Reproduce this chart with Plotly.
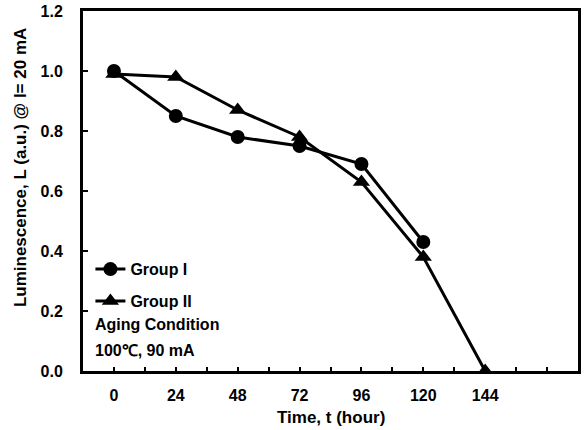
import plotly.graph_objects as go

hours = [0, 24, 48, 72, 96, 120, 144]
group1 = [1.00, 0.85, 0.78, 0.75, 0.69, 0.43]
group2 = [0.99, 0.98, 0.87, 0.78, 0.63, 0.38, 0.00]
x_tickvals = [0, 12, 24, 36, 48, 60, 72, 84, 96, 108, 120, 132, 144, 156, 168]
x_ticktext = ["0", "", "24", "", "48", "", "72", "", "96", "", "120", "", "144", "", ""]
y_tickvals = [0.0, 0.2, 0.4, 0.6, 0.8, 1.0, 1.2]

FONT = "Liberation Sans Narrow, Liberation Sans, Arial"

fig = go.Figure()
fig.add_trace(go.Scatter(
    x=hours[:len(group1)], y=group1, name="Group I", mode="lines+markers",
    legendgroup="g1",
    line=dict(color="black", width=3),
    marker=dict(symbol="circle", size=14, color="black"),
))
fig.add_trace(go.Scatter(
    x=hours, y=group2, name="Group II", mode="lines+markers",
    legendgroup="g2",
    line=dict(color="black", width=3),
    marker=dict(symbol="triangle-up", size=15, color="black"),
))

fig.update_layout(
    width=584, height=430,
    margin=dict(l=83, r=3, t=11, b=59),
    paper_bgcolor="white", plot_bgcolor="white",
    font=dict(family=FONT, size=15, color="black", weight="bold"),
    showlegend=True,
    legend=dict(x=0.015, y=0.33, xanchor="left", yanchor="top",
                bgcolor="rgba(0,0,0,0)", itemwidth=30, tracegroupgap=8,
                font=dict(family=FONT, size=16, color="black", weight="bold")),
    xaxis=dict(range=[-12, 180], tickvals=x_tickvals, ticktext=x_ticktext,
               ticks="inside", ticklen=4, tickwidth=2, tickcolor="black",
               showline=True, linewidth=3, linecolor="black", mirror=True,
               showgrid=False, zeroline=False, ticklabelstandoff=8,
               tickfont=dict(family=FONT, size=16, weight="bold")),
    yaxis=dict(range=[0, 1.2], tickvals=y_tickvals, tickformat=".1f",
               ticks="inside", ticklen=5, tickwidth=2, tickcolor="black",
               showline=True, linewidth=3, linecolor="black", mirror=True,
               showgrid=False, zeroline=False, ticklabelstandoff=14,
               tickfont=dict(family=FONT, size=16, weight="bold")),
    annotations=[
        dict(text="Time, t (hour)", xref="paper", yref="paper", x=0.5, y=-0.098,
             xanchor="center", yanchor="top", showarrow=False,
             font=dict(family=FONT, size=17, weight="bold")),
        dict(text="Luminescence, L (a.u.) @ I= 20 mA", xref="paper", yref="paper",
             x=-0.125, y=0.564, xanchor="center", yanchor="middle", textangle=-90,
             showarrow=False, font=dict(family=FONT, size=17, weight="bold")),
        dict(text="Aging Condition", xref="paper", yref="paper",
             x=0.02, y=0.128, xanchor="left", yanchor="middle", align="left",
             showarrow=False, font=dict(family=FONT, size=16, weight="bold")),
        dict(text="100\u2103, 90 mA", xref="paper", yref="paper",
             x=0.02, y=0.058, xanchor="left", yanchor="middle", align="left",
             showarrow=False, font=dict(family=FONT, size=16, weight="bold")),
    ],
)

fig.write_html("out.html")
